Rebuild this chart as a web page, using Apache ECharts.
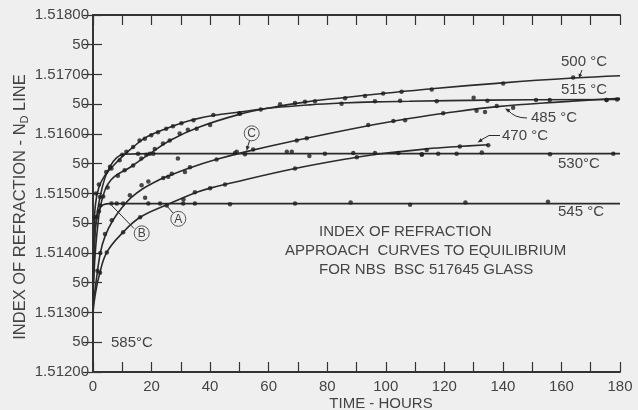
<!DOCTYPE html>
<html><head><meta charset="utf-8">
<script src="https://cdn.jsdelivr.net/npm/echarts@6/dist/echarts.min.js"></script>
<style>html,body{margin:0;padding:0;background:#efefef}#c{width:638px;height:410px}</style>
</head><body><div id="c"></div>
<script>
// ---- axis ranges / ticks ----
const xMin = 0, xMax = 180, xTickStep = 10, xLabelStep = 20;
const yMin = 1.512, yMax = 1.518, yTickStep = 0.0005;

// ---- fitted curves (time h, index) ----
const curve500 = [[0,1.5132],[0.5,1.5138],[1.5,1.5144],[3,1.51488],[6.2,1.51523],[13,1.51545],[18.8,1.51565],[26.6,1.5159],[35.9,1.51611],[50,1.51633],[61.5,1.51645],[73,1.51654],[85.4,1.51661],[99,1.51668],[115.7,1.51676],[140,1.51686],[164,1.51694],[180,1.51698]];
const curve515 = [[0,1.5132],[0.3,1.5142],[0.8,1.5148],[2,1.5151],[4,1.5153],[7,1.51547],[10,1.51562],[13.7,1.51578],[17,1.51591],[20,1.51599],[25,1.51609],[30,1.51618],[35,1.51625],[41,1.51631],[50,1.51637],[61.5,1.51644],[74,1.51649],[85,1.51652],[96,1.51654],[108,1.51655],[135,1.51657],[180,1.51658]];
const curve485 = [[0,1.5131],[1,1.5135],[2.5,1.514],[4.1,1.51428],[6.8,1.51455],[10,1.51477],[13,1.51493],[17,1.51508],[21,1.51519],[25,1.51528],[33,1.51543],[42,1.51557],[52,1.5157],[70,1.5159],[94,1.51614],[108,1.51626],[120,1.51635],[138,1.51646],[160,1.51654],[180,1.5166]];
const curve470 = [[0,1.513],[0.7,1.51328],[2,1.5136],[4.7,1.51401],[10.3,1.51435],[16.1,1.5146],[25.2,1.51481],[30.8,1.51493],[35.4,1.51502],[40,1.51509],[45.7,1.51516],[69,1.51542],[90,1.51561],[97,1.51566],[114,1.51575],[125,1.51579],[135,1.51582]];
const curve530 = [[0,1.5132],[0.5,1.5142],[1.2,1.5146],[2.4,1.51494],[4,1.51525],[5.8,1.51545],[8,1.5156],[10.5,1.51566],[20,1.51567],[180,1.51567]];
const curve545 = [[0,1.5132],[0.4,1.514],[1,1.5145],[2,1.51472],[3.5,1.51481],[6,1.51483],[180,1.51483]];

// ---- measured points ----
const dots500 = [[2,1.5147],[3.5,1.51495],[5,1.5151],[8.5,1.5153],[10.8,1.51539],[13.7,1.51547],[16.5,1.51559],[19.4,1.51567],[21.1,1.51575],[23.9,1.51584],[26.2,1.51589],[29.6,1.51601],[32.4,1.51607],[35.4,1.51609],[40,1.51615],[50.2,1.51634],[63.9,1.5165],[69,1.51652],[72.4,1.51654],[75.8,1.51655],[86.1,1.5166],[92.9,1.51664],[99.1,1.51668],[105.4,1.51671],[115.7,1.51675],[140.1,1.51685],[164,1.51695]];
const dots515 = [[0.5,1.5146],[1,1.515],[2,1.51515],[4.5,1.51536],[6.3,1.51542],[9.1,1.51556],[11.4,1.5157],[13.7,1.51578],[15.9,1.51589],[17.7,1.51592],[19.9,1.51598],[22.2,1.51603],[25,1.51609],[27.3,1.51613],[30.2,1.51618],[34.3,1.51623],[41.1,1.51632],[50,1.51635],[57.3,1.51641],[84.9,1.51651],[96.3,1.51655],[104.9,1.51656],[117.4,1.51655],[130,1.51661],[134.7,1.51656],[151.3,1.51657],[156,1.51657],[175.4,1.51657],[179,1.51658]];
const dots485 = [[1.5,1.5137],[2.5,1.514],[4.1,1.51432],[6.4,1.51455],[12.6,1.51497],[16.6,1.51514],[18.9,1.5152],[24,1.51526],[25.7,1.51528],[26.9,1.51533],[31.4,1.51536],[33.1,1.51544],[42.2,1.51557],[48.5,1.51568],[54.7,1.51574],[69.6,1.51589],[73,1.51593],[94,1.51615],[102.6,1.51622],[106.6,1.51623],[119.6,1.51635],[131,1.51639],[133.9,1.51637],[137.9,1.51647],[143.5,1.51644],[175.4,1.51657]];
const dots470 = [[2.4,1.51367],[4.7,1.51401],[10.3,1.51435],[16.1,1.5146],[25.2,1.5148],[30.9,1.5149],[34.8,1.51502],[40,1.51509],[45.1,1.51515],[69,1.51542],[90.1,1.51561],[112.3,1.51565],[114,1.51573],[125.3,1.51579],[135,1.51581]];
const dots530 = [[2.4,1.51494],[5.8,1.51545],[10,1.51565],[15.4,1.51567],[18.2,1.51565],[20.6,1.51567],[29,1.51559],[49.1,1.5157],[51.9,1.51566],[66.2,1.5157],[67.9,1.5157],[73.9,1.51563],[79.2,1.51567],[88.9,1.51568],[96.3,1.51568],[104.3,1.51568],[112.3,1.51566],[117.9,1.51567],[124.2,1.51567],[132.8,1.51569],[156.1,1.51566],[177.7,1.51567]];
const dots545 = [[1.2,1.5146],[2.5,1.5148],[6.3,1.51483],[8.1,1.51483],[10.3,1.51483],[17.8,1.51493],[18.9,1.51483],[22.9,1.51483],[30.8,1.51483],[34.8,1.51483],[46.8,1.51482],[69,1.51483],[88,1.51485],[108.3,1.51481],[127.2,1.51485],[155.4,1.51486]];

const curves = [curve500, curve515, curve485, curve470, curve530, curve545];
const dotSets = [dots500, dots515, dots485, dots470, dots530, dots545];

const INK = '#2b2b2b';
const TXT = '#444';
const FONT = 'Liberation Sans, Arial, sans-serif';

function arrowHead(tx, ty, fx, fy, len, w) {
  const dx = tx - fx, dy = ty - fy, d = Math.hypot(dx, dy) || 1;
  const ux = dx / d, uy = dy / d;
  const bx = tx - ux * len, by = ty - uy * len;
  return {type: 'polygon', shape: {points: [[tx, ty], [bx - uy * w, by + ux * w], [bx + uy * w, by - ux * w]]}, style: {fill: INK}};
}
function txt(s, x, y, align, size) {
  return {type: 'text', x: x, y: y, style: {text: s, fill: TXT, font: (size || 15) + 'px ' + FONT, textAlign: align || 'left', textVerticalAlign: 'middle'}};
}
function circLetter(s, cx, cy) {
  return [
    {type: 'circle', shape: {cx: cx, cy: cy, r: 7.5}, style: {fill: 'none', stroke: '#555', lineWidth: 1}},
    {type: 'text', x: cx, y: cy + 0.5, style: {text: s, fill: TXT, font: '12px ' + FONT, textAlign: 'center', textVerticalAlign: 'middle'}}
  ];
}
function seg(x1, y1, x2, y2) {
  return {type: 'line', shape: {x1, y1, x2, y2}, style: {stroke: INK, lineWidth: 1}};
}

const graphics = [
  txt('500 °C', 561, 62), txt('515 °C', 561, 90), txt('485 °C', 531, 118),
  txt('470 °C', 502, 136), txt('530°C', 558, 164), txt('545 °C', 558, 212),
  txt('585°C', 111, 343),
  txt('INDEX OF REFRACTION', 319, 232), txt('APPROACH  CURVES TO EQUILIBRIUM', 285, 251),
  txt('FOR NBS  BSC 517645 GLASS', 319, 270),
  txt('TIME - HOURS', 381, 404, 'center'),
  {type: 'text', x: 20, y: 207, rotation: Math.PI / 2,
   style: {text: '{a|INDEX OF REFRACTION - N}{s|D}{a| LINE}', textAlign: 'center', textVerticalAlign: 'middle',
     rich: {a: {fill: TXT, font: '16.5px ' + FONT}, s: {fill: TXT, font: '11px ' + FONT, padding: [10, 0, 0, 0]}}}},
  seg(582, 70, 580, 75), arrowHead(579, 78, 582, 70, 4, 2),
  {type: 'bezierCurve', shape: {x1: 527, y1: 118, x2: 508, y2: 110, cpx1: 514, cpy1: 118}, style: {stroke: INK, lineWidth: 1, fill: 'none'}},
  arrowHead(505, 108.5, 510, 111.5, 5, 2),
  seg(500, 135.5, 489, 135.5), seg(489, 135.5, 481, 140), arrowHead(477.5, 142.5, 483, 139, 5, 2),
  ...circLetter('C', 251.7, 133.3), seg(249.5, 141, 247.5, 147), arrowHead(246.5, 151, 248.5, 144, 5, 2),
  ...circLetter('A', 178.3, 218.8), seg(173, 213, 166.5, 205.5),
  ...circLetter('B', 141.7, 233.3), seg(134, 228.5, 111.7, 205.5)
];

const series = [];
curves.forEach(c => series.push({type: 'line', data: c, smooth: 0.4, showSymbol: false, silent: true,
  lineStyle: {color: INK, width: 1.6}, z: 2}));
dotSets.forEach(d => series.push({type: 'scatter', data: d, symbolSize: 4.5, silent: true, itemStyle: {color: '#1e1e1e'}, z: 3}));

const axisLine = {show: true, lineStyle: {color: '#333', width: 1.8}};
const chart = echarts.init(document.getElementById('c'), null, {renderer: 'canvas'});
chart.setOption({
  animation: false,
  backgroundColor: '#efefef',
  grid: {left: 93, right: 18, top: 15, bottom: 38},
  xAxis: [
    {type: 'value', min: xMin, max: xMax, interval: xTickStep, position: 'bottom', axisLine,
     axisTick: {inside: true, length: 10, lineStyle: {color: '#333', width: 1.2}},
     axisLabel: {margin: 7, color: TXT, fontSize: 15, fontFamily: FONT,
       formatter: v => (Math.round(v) % xLabelStep === 0 ? String(Math.round(v)) : '')},
     splitLine: {show: false}},
    {type: 'value', min: xMin, max: xMax, interval: xTickStep, position: 'top', axisLine,
     axisTick: {inside: true, length: 10, lineStyle: {color: '#333', width: 1.2}},
     axisLabel: {show: false}, splitLine: {show: false}}
  ],
  yAxis: [
    {type: 'value', min: yMin, max: yMax, interval: yTickStep, position: 'left', axisLine,
     axisTick: {inside: true, length: 9, lineStyle: {color: '#333', width: 1.2}},
     axisLabel: {margin: 4, color: TXT, fontSize: 15, fontFamily: FONT,
       formatter: v => (Math.round(v * 10000) % 10 === 0 ? v.toFixed(5) : '50')},
     splitLine: {show: false}},
    {type: 'value', min: yMin, max: yMax, interval: yTickStep, position: 'right', axisLine,
     axisTick: {inside: true, length: 10, lineStyle: {color: '#333', width: 1.2}},
     axisLabel: {show: false}, splitLine: {show: false}}
  ],
  series: series,
  graphic: graphics
});
</script></body></html>
